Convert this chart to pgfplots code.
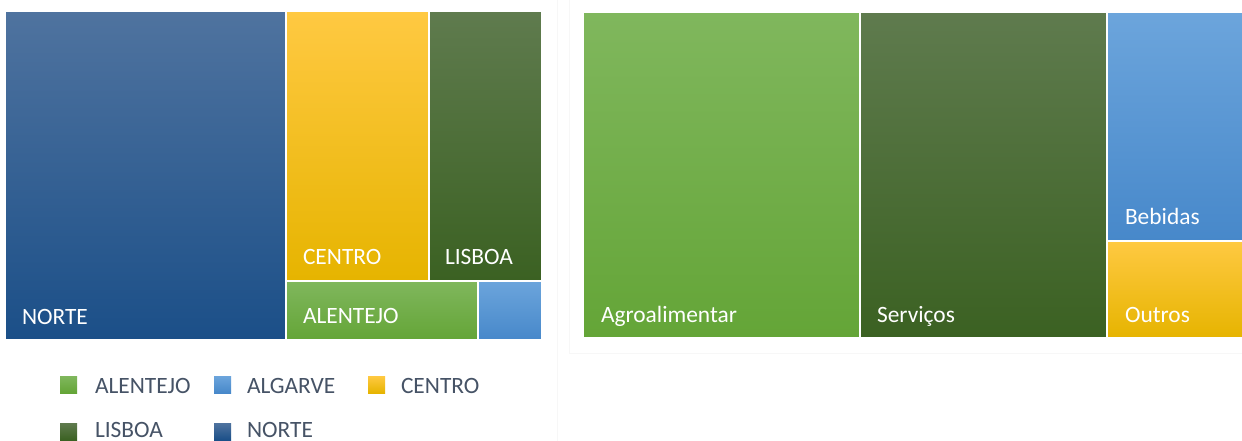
\documentclass[border=0pt]{standalone}
\usepackage{pgfplots}
\pgfplotsset{compat=1.18}
\usepackage{fontspec}
\setmainfont{Carlito}
\definecolor{bluT}{HTML}{4F739F}\definecolor{bluM}{HTML}{2A5F97}\definecolor{bluB}{HTML}{1B4F88}
\definecolor{yelT}{HTML}{FFC942}\definecolor{yelM}{HTML}{FFC300}\definecolor{yelB}{HTML}{E6B400}
\definecolor{dgrT}{HTML}{5F7B4E}\definecolor{dgrM}{HTML}{456A29}\definecolor{dgrB}{HTML}{3B6122}
\definecolor{lgrT}{HTML}{80B75D}\definecolor{lgrM}{HTML}{6EAD42}\definecolor{lgrB}{HTML}{64A537}
\definecolor{lbuT}{HTML}{6CA5DC}\definecolor{lbuM}{HTML}{5496D6}\definecolor{lbuB}{HTML}{4788CA}
\definecolor{legtext}{HTML}{465366}
\tikzset{lab/.style={font=\fontsize{23.4bp}{26bp}\selectfont, inner sep=0pt, outer sep=0pt, anchor=base west}}
\newcommand{\rect}[7]{\addplot[draw=white, line width=2bp, top color=#5, middle color=#6, bottom color=#7] coordinates {(#1,#2) (#3,#2) (#3,#4) (#1,#4)} -- cycle;}
\begin{document}
\begin{tikzpicture}
\begin{axis}[
  width=1242bp, height=441bp, scale only axis,
  xmin=0, xmax=1242, ymin=0, ymax=441, y dir=reverse,
  hide axis, clip=true,
]
% background and faint panel frames
\addplot[draw=none, fill=white] coordinates {(0,0) (1242,0) (1242,441) (0,441)} -- cycle;
\addplot[draw=black!3, line width=0.8bp] coordinates {(557,-2) (557,445)};
\addplot[draw=black!3, line width=0.8bp, fill=white] coordinates {(569,-2) (1250,-2) (1250,353) (569,353)} -- cycle;
% left treemap (regions)
\rect{5}{11.5}{286}{340}{bluT}{bluM}{bluB}
\rect{286}{11.5}{428.5}{280.5}{yelT}{yelM}{yelB}
\rect{428.5}{11.5}{542}{280.5}{dgrT}{dgrM}{dgrB}
\rect{286}{280.5}{478}{340}{lgrT}{lgrM}{lgrB}
\rect{478}{280.5}{542}{340}{lbuT}{lbuM}{lbuB}
% right treemap (sectors)
\rect{583}{12}{860}{338}{lgrT}{lgrM}{lgrB}
\rect{860}{12}{1107}{338}{dgrT}{dgrM}{dgrB}
\rect{1107}{12}{1260}{241}{lbuT}{lbuM}{lbuB}
\rect{1107}{241}{1260}{338}{yelT}{yelM}{yelB}
% labels
\node[lab, white] at (axis cs:22,324) {NORTE};
\node[lab, white] at (axis cs:303,264) {CENTRO};
\node[lab, white] at (axis cs:445,264) {LISBOA};
\node[lab, white] at (axis cs:303,323) {ALENTEJO};
\node[lab, white] at (axis cs:601,322) {Agroalimentar};
\node[lab, white] at (axis cs:877,322) {Serviços};
\node[lab, white] at (axis cs:1125,224) {Bebidas};
\node[lab, white] at (axis cs:1125,322) {Outros};
% legend
\addplot[draw=none, top color=lgrT, bottom color=lgrB] coordinates {(60,376) (77,376) (77,393) (60,393)} -- cycle;
\addplot[draw=none, top color=lbuT, bottom color=lbuB] coordinates {(214,376) (231,376) (231,393) (214,393)} -- cycle;
\addplot[draw=none, top color=yelT, bottom color=yelB] coordinates {(368,376) (385,376) (385,393) (368,393)} -- cycle;
\addplot[draw=none, top color=dgrT, bottom color=dgrB] coordinates {(60,423) (77,423) (77,440) (60,440)} -- cycle;
\addplot[draw=none, top color=bluT, bottom color=bluB] coordinates {(214,423) (231,423) (231,440) (214,440)} -- cycle;
\node[lab, legtext] at (axis cs:95,393) {ALENTEJO};
\node[lab, legtext] at (axis cs:247,393) {ALGARVE};
\node[lab, legtext] at (axis cs:401,393) {CENTRO};
\node[lab, legtext] at (axis cs:95,437) {LISBOA};
\node[lab, legtext] at (axis cs:247,437) {NORTE};
\end{axis}
\end{tikzpicture}
\end{document}
